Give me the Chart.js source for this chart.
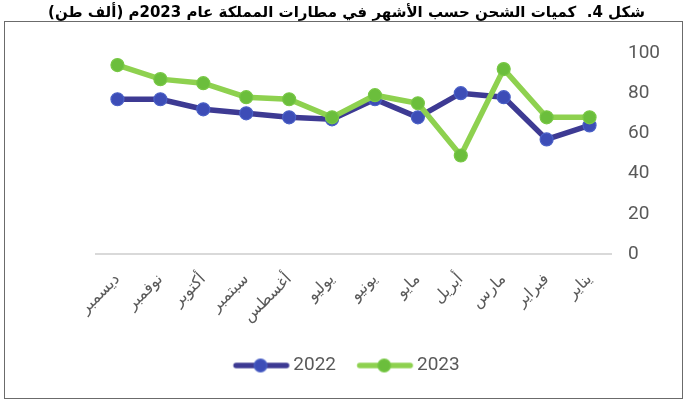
<!DOCTYPE html>
<html>
<head>
<meta charset="utf-8">
<script src="https://cdn.jsdelivr.net/npm/chart.js@4"></script>
<style>
  html, body { margin: 0; padding: 0; background: #ffffff; }
  #wrap { position: relative; width: 693px; height: 403px; }
  #frame { position: absolute; left: 4px; top: 21px; width: 677px; height: 376px; border: 1.5px solid #6b6b6b; pointer-events: none; }
  canvas { direction: rtl; }
</style>
</head>
<body>
<div id="wrap">
  <canvas id="c" width="693" height="403"></canvas>
  <div id="frame"></div>
</div>
<script>
const titleText = 'شكل 4.  كميات الشحن حسب الأشهر في مطارات المملكة عام 2023م (ألف طن)';
const categories = ['يناير','فبراير','مارس','أبريل','مايو','يونيو','يوليو','أغسطس','سبتمبر','أكتوبر','نوفمبر','ديسمبر'];
const values2022 = [64, 57, 78, 80, 68, 77, 67, 68, 70, 72, 77, 77];
const values2023 = [68, 68, 92, 49, 75, 79, 68, 77, 78, 85, 87, 94];
const yTicks = [0, 20, 40, 60, 80, 100];

const c2022 = { line: '#3d3a93', point: '#3d4db7', pointBorder: '#4a60c6' };
const c2023 = { line: '#8ed14f', point: '#6bbe3c', pointBorder: '#78c845' };

function legendImage(col) {
  const cv = document.createElement('canvas');
  cv.width = 112; cv.height = 16;
  const g = cv.getContext('2d');
  g.strokeStyle = col.line; g.lineWidth = 5.5; g.lineCap = 'round';
  g.beginPath(); g.moveTo(33.5, 8); g.lineTo(84, 8); g.stroke();
  g.fillStyle = col.point; g.strokeStyle = col.pointBorder; g.lineWidth = 1.2;
  g.beginPath(); g.arc(58, 8, 6.3, 0, Math.PI * 2); g.fill(); g.stroke();
  return cv;
}
const legendImgs = [legendImage(c2022), legendImage(c2023)];

new Chart(document.getElementById('c'), {
  type: 'line',
  data: {
    labels: categories,
    datasets: [
      { label: '2022', data: values2022, order: 1,
        borderColor: c2022.line, borderWidth: 5.5, tension: 0,
        pointRadius: 6.5, pointBackgroundColor: c2022.point, pointBorderColor: c2022.pointBorder, pointBorderWidth: 1.2 },
      { label: '2023', data: values2023, order: 0,
        borderColor: c2023.line, borderWidth: 5.5, tension: 0,
        pointRadius: 6.5, pointBackgroundColor: c2023.point, pointBorderColor: c2023.pointBorder, pointBorderWidth: 1.2 }
    ]
  },
  options: {
    responsive: false,
    animation: false,
    layout: { padding: { left: 0, right: 0, top: 0, bottom: 18 } },
    clip: false,
    scales: {
      x: {
        reverse: true,
        offset: true,
        grid: { display: false },
        border: { display: true, color: '#d9d9d9', width: 2 },
        ticks: { autoSkip: false, maxRotation: 45, minRotation: 45, padding: 8,
                 color: '#595959', font: { family: 'DejaVu Sans', size: 16 } },
        afterFit: s => { s.height = 81; }
      },
      y: {
        position: 'right',
        min: 0, max: 100,
        afterBuildTicks: s => { s.ticks = yTicks.map(v => ({ value: v })); },
        grid: { display: false, drawTicks: false },
        border: { display: false },
        ticks: { padding: 17, color: '#595959', font: { family: 'Roboto', size: 19 } },
        afterFit: s => { s.width = 82; }
      },
      yl: {
        position: 'left',
        display: true,
        grid: { display: false, drawTicks: false },
        border: { display: false },
        ticks: { display: false },
        afterFit: s => { s.width = 96; }
      }
    },
    plugins: {
      title: {
        display: true,
        text: titleText,
        color: '#000000',
        font: { family: 'DejaVu Sans', size: 15, weight: 'bold' },
        padding: { top: 4, bottom: 31 }
      },
      legend: {
        position: 'bottom',
        labels: {
          usePointStyle: true,
          pointStyleWidth: 50.5,
          padding: 21,
          color: '#595959',
          font: { family: 'Roboto', size: 19 },
          sort: (a, b) => a.datasetIndex - b.datasetIndex,
          generateLabels: chart => {
            const items = Chart.defaults.plugins.legend.labels.generateLabels(chart);
            items.forEach(it => { it.pointStyle = legendImgs[it.datasetIndex]; });
            return items;
          }
        }
      },
      tooltip: { enabled: false }
    }
  }
});
</script>
</body>
</html>
